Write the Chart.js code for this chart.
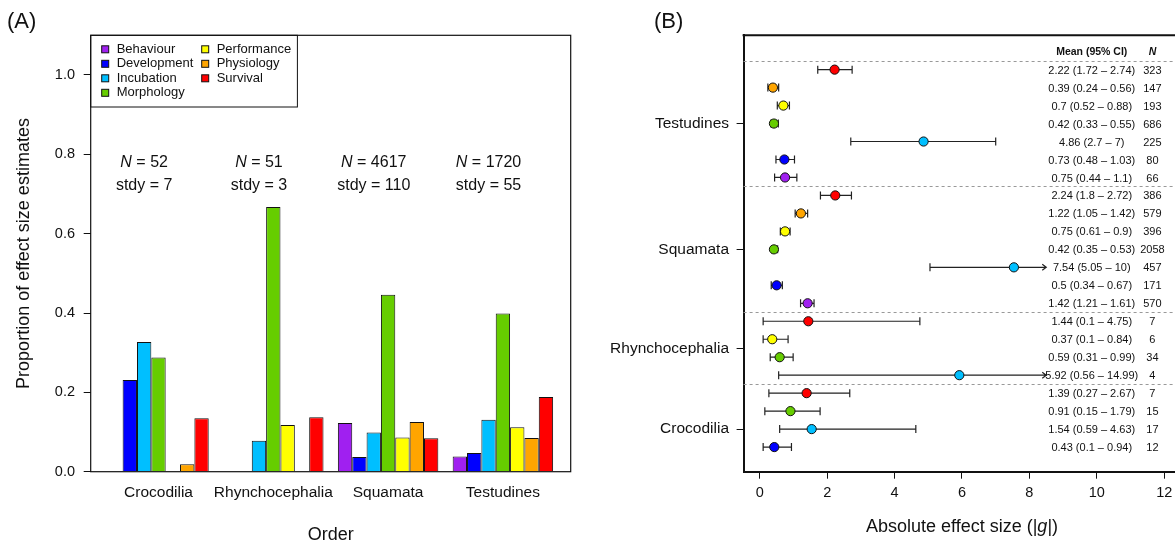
<!DOCTYPE html>
<html>
<head>
<meta charset="utf-8">
<script src="https://cdn.jsdelivr.net/npm/chart.js@4.4.1/dist/chart.umd.min.js"></script>
<style>
  html, body { margin: 0; padding: 0; background: #fff; overflow: hidden; }
  #wrap { position: relative; width: 1175px; height: 544px; }
  canvas { position: absolute; top: 0; }
  #panelA { left: 0; }
  #panelB { left: 600px; }
</style>
</head>
<body>
<div id="wrap">
  <canvas id="panelA" width="600" height="544"></canvas>
  <canvas id="panelB" width="575" height="544"></canvas>
</div>
<script>
const FONT = "'Liberation Sans', Arial, Helvetica, sans-serif";
Chart.defaults.font.family = FONT;
Chart.defaults.color = "#111";

// ---- panel A: proportion of estimates per trait category ----
const orders = ["Crocodilia", "Rhynchocephalia", "Squamata", "Testudines"];
const nEstimates = [52, 51, 4617, 1720];
const nStudies = [7, 3, 110, 55];

const traits = ["Behaviour", "Development", "Incubation", "Morphology", "Performance", "Physiology", "Survival"];
const traitColours = ["#A020F0", "#0000FF", "#00BFFF", "#66CD00", "#FFFF00", "#FFA500", "#FF0000"];

const propBehaviour = [0, 0, 0.123, 0.038];
const propDevelopment = [0.231, 0, 0.037, 0.047];
const propIncubation = [0.327, 0.078, 0.099, 0.131];
const propMorphology = [0.288, 0.667, 0.446, 0.399];
const propPerformance = [0, 0.118, 0.086, 0.112];
const propPhysiology = [0.019, 0, 0.125, 0.085];
const propSurvival = [0.135, 0.137, 0.084, 0.188];
const proportions = [propBehaviour, propDevelopment, propIncubation, propMorphology,
	propPerformance, propPhysiology, propSurvival];

const yTicksA = [0, 0.2, 0.4, 0.6, 0.8, 1.0];

// ---- panel B: mean absolute effect size with 95% CI (rows top to bottom) ----
const forestOrder = [
	"Testudines", "Testudines", "Testudines", "Testudines", "Testudines", "Testudines", "Testudines",
	"Squamata", "Squamata", "Squamata", "Squamata", "Squamata", "Squamata", "Squamata",
	"Rhynchocephalia", "Rhynchocephalia", "Rhynchocephalia", "Rhynchocephalia",
	"Crocodilia", "Crocodilia", "Crocodilia", "Crocodilia",
];
const forestTrait = [
	"Survival", "Physiology", "Performance", "Morphology", "Incubation", "Development", "Behaviour",
	"Survival", "Physiology", "Performance", "Morphology", "Incubation", "Development", "Behaviour",
	"Survival", "Performance", "Morphology", "Incubation",
	"Survival", "Morphology", "Incubation", "Development",
];
const forestMean = [2.22, 0.39, 0.7, 0.42, 4.86, 0.73, 0.75, 2.24, 1.22, 0.75, 0.42, 7.54, 0.5, 1.42,
	1.44, 0.37, 0.59, 5.92, 1.39, 0.91, 1.54, 0.43];
const forestLower = [1.72, 0.24, 0.52, 0.33, 2.7, 0.48, 0.44, 1.8, 1.05, 0.61, 0.35, 5.05, 0.34, 1.21,
	0.1, 0.1, 0.31, 0.56, 0.27, 0.15, 0.59, 0.1];
const forestUpper = [2.74, 0.56, 0.88, 0.55, 7, 1.03, 1.1, 2.72, 1.42, 0.9, 0.53, 10, 0.67, 1.61,
	4.75, 0.84, 0.99, 14.99, 2.67, 1.79, 4.63, 0.94];
const forestN = [323, 147, 193, 686, 225, 80, 66, 386, 579, 396, 2058, 457, 171, 570,
	7, 6, 34, 4, 7, 15, 17, 12];

const orderTickRows = [3, 10, 15.5, 20];
const orderTickNames = ["Testudines", "Squamata", "Rhynchocephalia", "Crocodilia"];
const xTicksB = [0, 2, 4, 6, 8, 10, 12];
const truncateAt = 8.5;

// draws a run of text pieces with different font styles, centred or left aligned
function drawRich(ctx, parts, x, y, size, align) {
	const widths = parts.map(([style, text]) => {
		ctx.font = `${style} ${size}px ${FONT}`;
		return ctx.measureText(text).width;
	});
	const total = widths.reduce((a, b) => a + b, 0);
	let cx = align === "center" ? x - total / 2 : x;
	ctx.textAlign = "left";
	ctx.textBaseline = "middle";
	parts.forEach(([style, text], k) => {
		ctx.font = `${style} ${size}px ${FONT}`;
		ctx.fillText(text, cx, y);
		cx += widths[k];
	});
}

const panelAExtras = {
	id: "panelAExtras",
	afterDraw(chart) {
		const { ctx, chartArea: a, scales } = chart;
		const x = scales.x;
		const y = scales.y;
		ctx.save();
		ctx.strokeStyle = "#111";
		ctx.lineWidth = 1.2;
		ctx.strokeRect(a.left, a.top, a.right - a.left, a.bottom - a.top);

		// legend box, two columns filled column by column
		ctx.lineWidth = 1;
		ctx.strokeRect(a.left, a.top, 206.7, 71.7);
		chart.data.datasets.forEach((ds, k) => {
			const col = k < 4 ? 0 : 1;
			const row = k < 4 ? k : k - 4;
			const sx = a.left + 11 + col * 100;
			const sy = a.top + 14 + row * 14.5;
			ctx.fillStyle = ds.backgroundColor;
			ctx.fillRect(sx, sy - 3.5, 7, 7);
			ctx.strokeStyle = "#111";
			ctx.strokeRect(sx, sy - 3.5, 7, 7);
			ctx.fillStyle = "#111";
			ctx.font = `13px ${FONT}`;
			ctx.textAlign = "left";
			ctx.textBaseline = "middle";
			ctx.fillText(ds.label, sx + 15, sy);
		});

		// sample sizes above each group
		ctx.fillStyle = "#111";
		orders.forEach((o, i) => {
			const cx = x.getPixelForValue(i - 0.125);
			drawRich(ctx, [["italic", "N"], ["normal", ` = ${nEstimates[i]}`]], cx, y.getPixelForValue(0.78), 16, "center");
			drawRich(ctx, [["normal", `stdy = ${nStudies[i]}`]], cx, y.getPixelForValue(0.722), 16, "center");
		});

		drawRich(ctx, [["normal", "(A)"]], 7, 22, 22, "left");
		ctx.restore();
	},
};

new Chart(document.getElementById("panelA"), {
	type: "bar",
	data: {
		datasets: traits.map((t, k) => ({
			label: t,
			data: orders.map((o, i) => ({ x: i, y: proportions[k][i] })),
			backgroundColor: traitColours[k],
			borderColor: "#111",
			borderWidth: 1,
			categoryPercentage: 0.875,
			barPercentage: 1,
		})),
	},
	options: {
		responsive: false,
		animation: false,
		devicePixelRatio: 1,
		events: [],
		layout: { autoPadding: false, padding: { top: 35.3, right: 29.3, bottom: 0, left: 0 } },
		plugins: { legend: { display: false }, tooltip: { enabled: false } },
		scales: {
			x: {
				type: "linear",
				offset: false,
				min: -0.5906,
				max: 3.5906,
				afterBuildTicks: (s) => {
					s.ticks = orders.map((o, i) => ({ value: i }));
				},
				ticks: {
					callback: (v) => orders[v],
					font: { size: 15.5 },
					padding: 12,
					autoSkip: false,
					maxRotation: 0,
					minRotation: 0,
				},
				grid: { display: false, drawTicks: false, offset: false },
				border: { display: false },
				title: {
					display: true,
					text: "Order",
					font: { size: 18, lineHeight: 1 },
					padding: { top: 0, bottom: 0 },
				},
				afterFit: (s) => {
					s.height = 72.3;
					s.paddingLeft = 0;
					s.paddingRight = 0;
				},
			},
			y: {
				min: 0,
				max: 1.1,
				afterBuildTicks: (s) => {
					s.ticks = yTicksA.map((v) => ({ value: v }));
				},
				ticks: {
					callback: (v) => v.toFixed(1),
					font: { size: 14.5 },
					padding: 8.7,
				},
				grid: { drawOnChartArea: false, tickLength: 7, color: "#111", tickColor: "#111" },
				border: { display: false },
				title: {
					display: true,
					text: "Proportion of effect size estimates",
					font: { size: 18, lineHeight: 1 },
					padding: { top: 14.7, bottom: 0 },
				},
				afterFit: (s) => {
					s.width = 90.7;
					s.paddingTop = 0;
					s.paddingBottom = 0;
				},
			},
		},
	},
	plugins: [panelAExtras],
});

const panelBExtras = {
	id: "panelBExtras",
	beforeDatasetsDraw(chart) {
		const { ctx, chartArea: a, scales } = chart;
		const x = scales.x;
		const y = scales.y;
		ctx.save();

		// dashed separators between orders
		ctx.strokeStyle = "#999";
		ctx.lineWidth = 1;
		ctx.setLineDash([3, 3]);
		forestOrder.forEach((o, i) => {
			if (i === 0 || o !== forestOrder[i - 1]) {
				const py = Math.round(y.getPixelForValue(i - 0.5)) + 0.5;
				ctx.beginPath();
				ctx.moveTo(a.left, py);
				ctx.lineTo(a.right, py);
				ctx.stroke();
			}
		});
		ctx.setLineDash([]);

		// top of the frame
		ctx.strokeStyle = "#111";
		ctx.lineWidth = 2;
		ctx.beginPath();
		ctx.moveTo(a.left - 1, a.top);
		ctx.lineTo(a.right, a.top);
		ctx.stroke();

		// confidence intervals
		ctx.strokeStyle = "#222";
		ctx.lineWidth = 1.2;
		forestMean.forEach((m, i) => {
			const py = y.getPixelForValue(i);
			const lo = x.getPixelForValue(forestLower[i]);
			const cut = forestUpper[i] > truncateAt;
			const hi = x.getPixelForValue(cut ? truncateAt : forestUpper[i]);
			ctx.beginPath();
			ctx.moveTo(lo, py);
			ctx.lineTo(hi, py);
			ctx.moveTo(lo, py - 4);
			ctx.lineTo(lo, py + 4);
			if (cut) {
				ctx.moveTo(hi - 4, py - 3);
				ctx.lineTo(hi, py);
				ctx.lineTo(hi - 4, py + 3);
			} else {
				ctx.moveTo(hi, py - 4);
				ctx.lineTo(hi, py + 4);
			}
			ctx.stroke();
		});
		ctx.restore();
	},
	afterDraw(chart) {
		const { ctx, chartArea: a, scales } = chart;
		const x = scales.x;
		const y = scales.y;
		ctx.save();
		ctx.fillStyle = "#111";
		const ciX = x.getPixelForValue(9.85);
		const nX = x.getPixelForValue(11.65);
		drawRich(ctx, [["bold", "Mean (95% CI)"]], ciX, y.getPixelForValue(-1), 10.5, "center");
		drawRich(ctx, [["italic bold", "N"]], nX, y.getPixelForValue(-1), 10.5, "center");
		forestMean.forEach((m, i) => {
			const py = y.getPixelForValue(i) + 1;
			drawRich(ctx, [["normal", `${m} (${forestLower[i]} \u2013 ${forestUpper[i]})`]], ciX, py, 11, "center");
			drawRich(ctx, [["normal", `${forestN[i]}`]], nX, py, 11, "center");
		});
		drawRich(ctx, [["normal", "Absolute effect size (|"], ["italic", "g"], ["normal", "|)"]],
			x.getPixelForValue(6), a.bottom + 55.3, 18, "center");
		drawRich(ctx, [["normal", "(B)"]], 54, 22, 22, "left");
		ctx.restore();
	},
};

new Chart(document.getElementById("panelB"), {
	type: "scatter",
	data: {
		datasets: [
			{
				label: "Mean effect size",
				data: forestMean.map((m, i) => ({ x: m, y: i })),
				pointRadius: 4.6,
				pointBackgroundColor: forestTrait.map((t) => traitColours[traits.indexOf(t)]),
				pointBorderColor: "#111",
				pointBorderWidth: 1,
			},
		],
	},
	options: {
		responsive: false,
		animation: false,
		devicePixelRatio: 1,
		events: [],
		layout: { autoPadding: false, padding: { top: 35.3, right: 0, bottom: 0, left: 0 } },
		plugins: { legend: { display: false }, tooltip: { enabled: false } },
		scales: {
			x: {
				type: "linear",
				min: -0.48,
				max: 12.32,
				afterBuildTicks: (s) => {
					s.ticks = xTicksB.map((v) => ({ value: v }));
				},
				ticks: { font: { size: 14.5 }, padding: 5.6, maxRotation: 0, autoSkip: false },
				grid: { drawOnChartArea: false, tickLength: 7, color: "#111", tickColor: "#111", lineWidth: 1 },
				border: { display: true, color: "#111", width: 2 },
				afterFit: (s) => {
					s.height = 72.3;
					s.paddingLeft = 0;
					s.paddingRight = 0;
				},
			},
			y: {
				type: "linear",
				reverse: true,
				min: -1.91,
				max: 22.37,
				afterBuildTicks: (s) => {
					s.ticks = orderTickRows.map((v) => ({ value: v }));
				},
				ticks: {
					callback: (v) => orderTickNames[orderTickRows.indexOf(v)],
					font: { size: 15.5 },
					padding: 7.6,
					autoSkip: false,
				},
				grid: { drawOnChartArea: false, tickLength: 7, color: "#111", tickColor: "#111" },
				border: { display: true, color: "#111", width: 2 },
				afterFit: (s) => {
					s.width = 143.6;
					s.paddingTop = 0;
					s.paddingBottom = 0;
				},
			},
		},
	},
	plugins: [panelBExtras],
});
</script>
</body>
</html>
